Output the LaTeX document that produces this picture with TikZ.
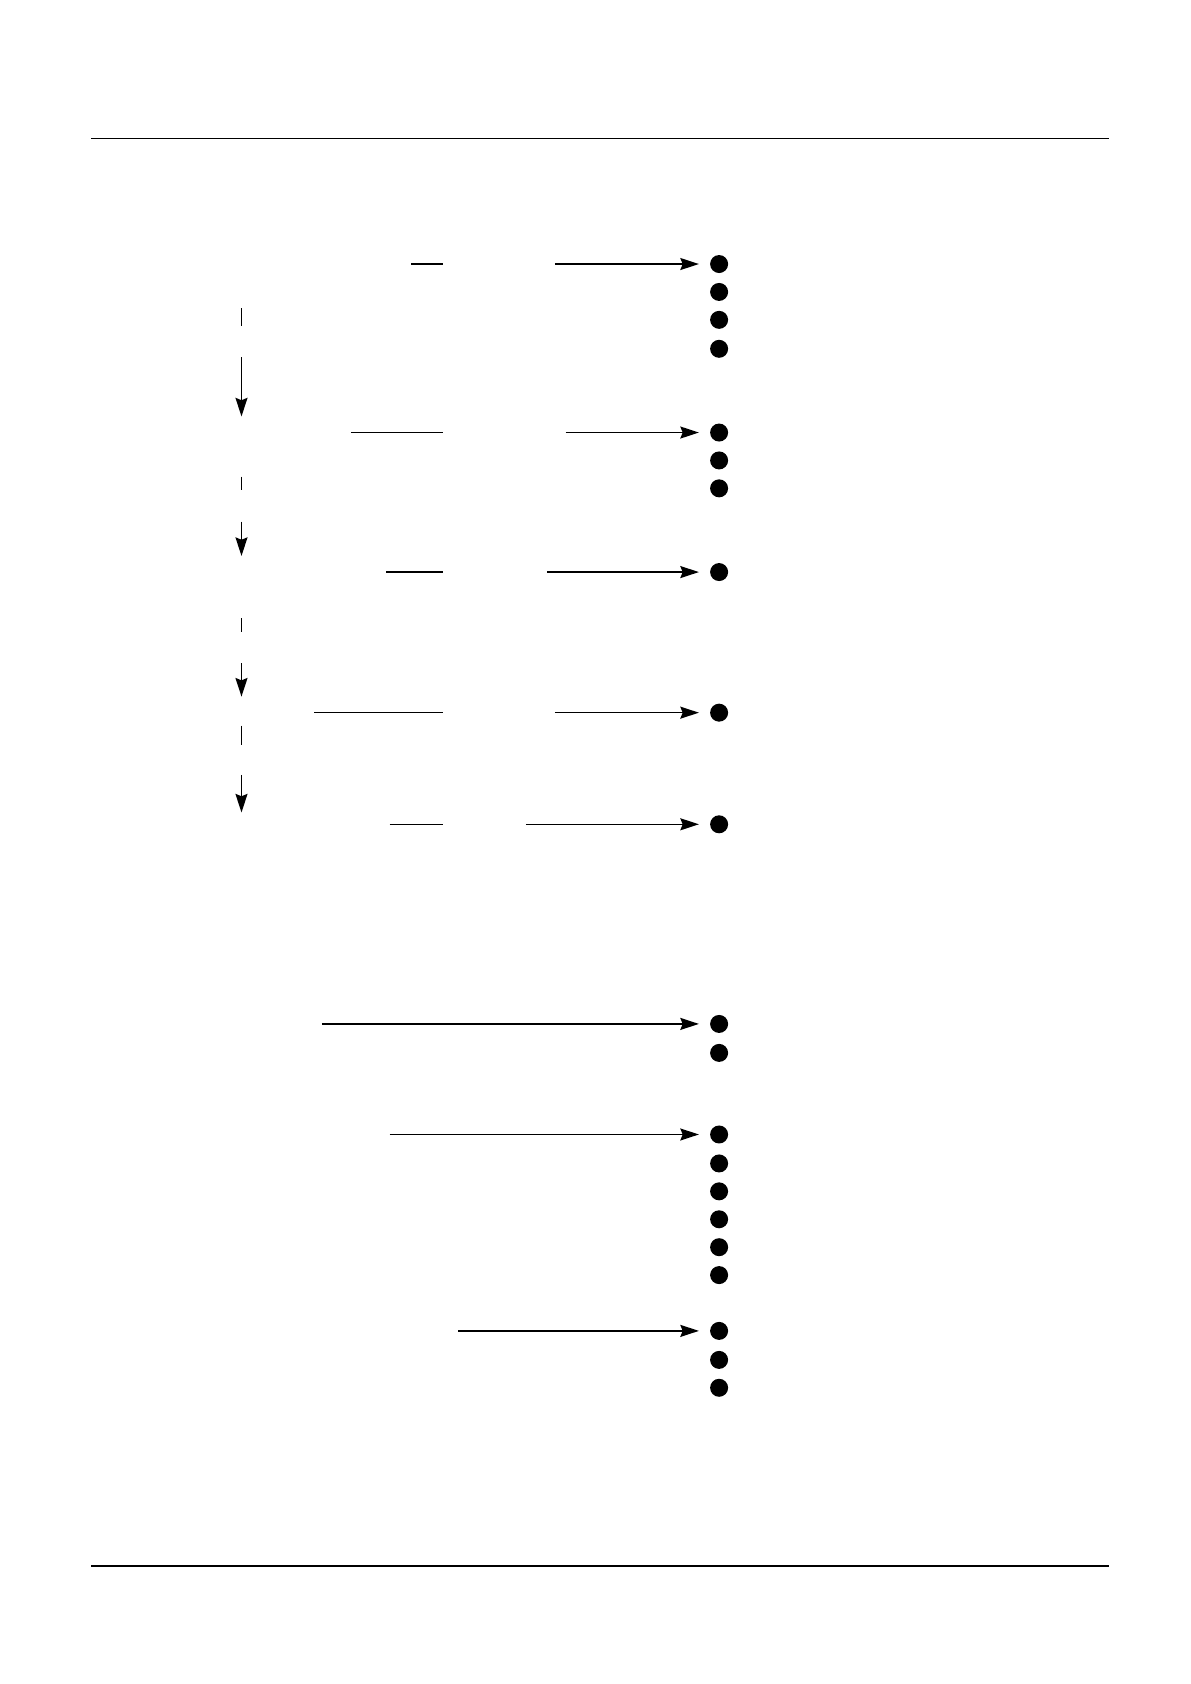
\documentclass[tikz,border=0pt]{standalone}
\usetikzlibrary{arrows.meta}
\begin{document}
\begin{tikzpicture}[x=0.5365pt,y=-0.5365pt,
  ln/.style={line width=0.75pt},
  arr/.style={line width=0.75pt,-{Stealth[length=9.3pt,width=6pt,inset=1.2pt]}},
  dot/.style={circle,fill=black,inner sep=0pt,minimum size=9pt},
  rule/.style={line width=0.9pt}]
\useasboundingbox (0,0) rectangle (1109,1569);
% rules
\draw[rule] (85,129) -- (1033,129);
\draw[rule] (85,1459) -- (1033,1459);
% dots
\foreach \n/\y in {a1/246,a2/272,a3/298,a4/325,b1/403,b2/429,b3/455,c1/533,d1/664,e1/768,
  f1/954,f2/981,g1/1057,g2/1084,g3/1110,g4/1136,g5/1162,g6/1188,h1/1240,h2/1267,h3/1293}
  \node[dot] (\n) at (670,\y) {};
% start coordinates
\coordinate (sa) at (517,246);
\coordinate (sb) at (527,403);
\coordinate (sc) at (510,533);
\coordinate (sd) at (517,664);
\coordinate (se) at (490,768);
\coordinate (sf) at (300,954);
\coordinate (sg) at (363,1057);
\coordinate (sh) at (427,1240);
\foreach \s/\t in {sa/a1,sb/b1,sc/c1,sd/d1,se/e1,sf/f1,sg/g1,sh/h1}
  \draw[arr,shorten >=5.4pt] (\s) -- (\t.west);
% short left lines
\draw[ln] (383,246) -- (413,246);
\draw[ln] (327,403) -- (413,403);
\draw[ln] (360,533) -- (413,533);
\draw[ln] (293,664) -- (413,664);
\draw[ln] (363,768) -- (413,768);
% vertical pieces
\coordinate (v1a) at (225,287); \coordinate (v1b) at (225,304);
\coordinate (v1c) at (225,333); \coordinate (v1d) at (225,388);
\coordinate (v2a) at (225,444); \coordinate (v2b) at (225,457);
\coordinate (v2c) at (225,486); \coordinate (v2d) at (225,518);
\coordinate (v3a) at (225,576); \coordinate (v3b) at (225,589);
\coordinate (v3c) at (225,618); \coordinate (v3d) at (225,649);
\coordinate (v4a) at (225,676); \coordinate (v4b) at (225,694);
\coordinate (v4c) at (225,722); \coordinate (v4d) at (225,757);
\foreach \i in {1,2,3,4}{
  \draw[ln] (v\i a) -- (v\i b);
  \draw[arr] (v\i c) -- (v\i d);
}
\end{tikzpicture}
\end{document}
